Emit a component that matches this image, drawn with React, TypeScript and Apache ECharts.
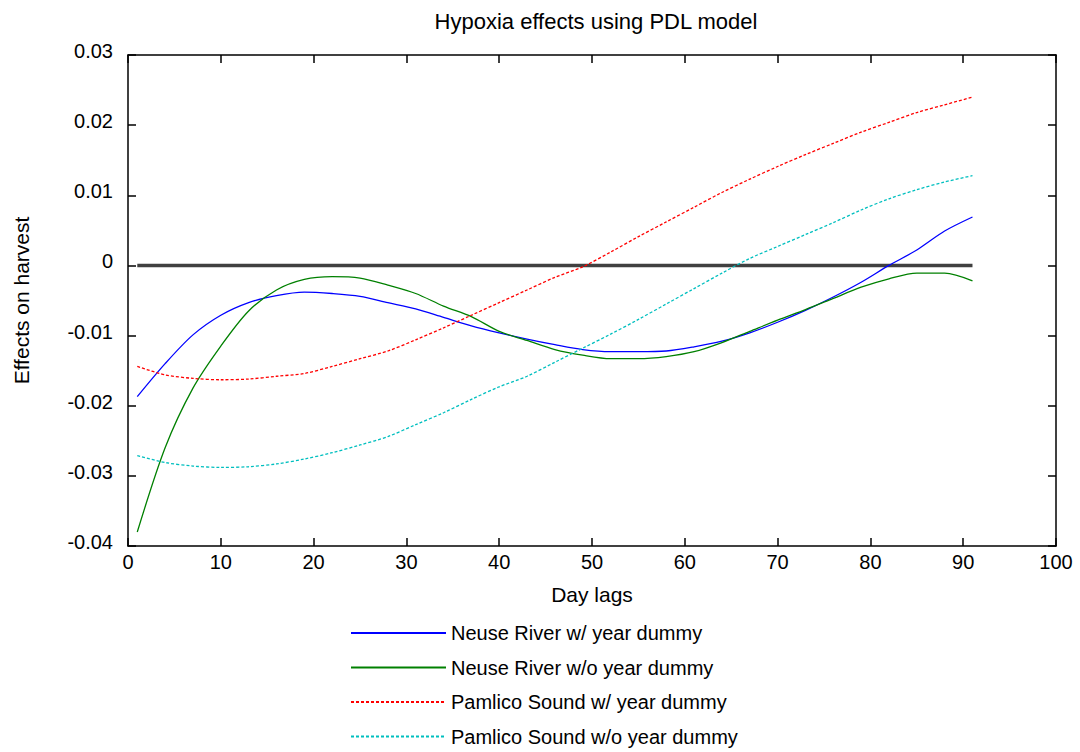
import React, { useEffect, useRef } from "react";
import * as echarts from "echarts";

const days = [1, 4, 7, 10, 13, 16, 19, 22, 25, 28, 31, 34, 37, 40, 43, 46, 49, 52, 55, 58, 61, 64, 67, 70, 73, 76, 79, 82, 85, 88, 91];

const neuseWith = [-0.0187, -0.0140, -0.0099, -0.0071, -0.0053, -0.0043, -0.0038, -0.0040, -0.0044, -0.0053, -0.0062, -0.0074, -0.0086, -0.0096, -0.0105, -0.0113, -0.0120, -0.0123, -0.0123, -0.0122, -0.0116, -0.0108, -0.0096, -0.0081, -0.0064, -0.0045, -0.0024, 0.0000, 0.0022, 0.0049, 0.0069];

const neuseWithout = [-0.0380, -0.0260, -0.0175, -0.0115, -0.0065, -0.0035, -0.0020, -0.0016, -0.0018, -0.0028, -0.0040, -0.0058, -0.0073, -0.0094, -0.0107, -0.0120, -0.0128, -0.0133, -0.0133, -0.0130, -0.0123, -0.0110, -0.0094, -0.0078, -0.0063, -0.0047, -0.0031, -0.0019, -0.0011, -0.0011, -0.0022];

const pamlicoWith = [-0.0144, -0.0156, -0.0161, -0.0163, -0.0162, -0.0158, -0.0154, -0.0144, -0.0133, -0.0122, -0.0106, -0.0089, -0.0071, -0.0053, -0.0035, -0.0017, -0.0002, 0.0019, 0.0041, 0.0062, 0.0083, 0.0104, 0.0123, 0.0141, 0.0158, 0.0174, 0.0190, 0.0204, 0.0218, 0.0229, 0.0240];

const pamlicoWithout = [-0.0271, -0.0281, -0.0286, -0.0288, -0.0287, -0.0283, -0.0276, -0.0267, -0.0256, -0.0244, -0.0227, -0.0210, -0.0191, -0.0173, -0.0158, -0.0138, -0.0118, -0.0098, -0.0077, -0.0055, -0.0033, -0.0011, 0.0010, 0.0027, 0.0044, 0.0061, 0.0079, 0.0095, 0.0108, 0.0119, 0.0128];

const zeroLine = [[1, 0], [91, 0]];

const seriesNames = [
  "Neuse River w/ year dummy",
  "Neuse River w/o year dummy",
  "Pamlico Sound w/ year dummy",
  "Pamlico Sound w/o year dummy",
];

const FONT = "Liberation Sans";

export default function App() {
  const ref = useRef<HTMLDivElement>(null);
  useEffect(() => {
    if (!ref.current) return;
    const chart = echarts.init(ref.current, null, { renderer: "svg" });
    const pair = (vals: number[]) => days.map((d, i) => [d, vals[i]]);
    const mk = (name: string, vals: number[], color: string, dotted: boolean) => ({
      name,
      type: "line",
      data: pair(vals),
      showSymbol: false,
      symbol: "none",
      smooth: 0.3,
      lineStyle: { color, width: 1.3, type: dotted ? [3, 2] : "solid" },
      itemStyle: { color },
      z: 3,
    });
    const axisText = { color: "#000", fontSize: 20, fontFamily: FONT };
    const tick = { show: true, inside: true, length: 8, lineStyle: { color: "#000", width: 1.5 } };
    const line = { show: true, onZero: false, lineStyle: { color: "#000", width: 1.5 } };
    chart.setOption({
      animation: false,
      backgroundColor: "#fff",
      title: {
        text: "Hypoxia effects using PDL model",
        left: 591,
        textAlign: "center",
        top: 5,
        textStyle: { color: "#000", fontSize: 22, fontWeight: "normal", fontFamily: FONT },
      },
      grid: { left: 128, right: 24, top: 55, bottom: 206, containLabel: false },
      legend: {
        data: seriesNames,
        orient: "vertical",
        left: 345,
        top: 618,
        height: 200,
        itemWidth: 95,
        itemHeight: 14,
        itemGap: 14.5,
        itemTextGap: 4,
        itemStyle: { opacity: 0 },
        textStyle: { color: "#000", fontSize: 20, lineHeight: 20, fontFamily: FONT },
      },
      xAxis: [
        {
          type: "value",
          min: 0,
          max: 100,
          interval: 10,
          name: "Day lags",
          nameLocation: "middle",
          nameGap: 38,
          nameTextStyle: { color: "#000", fontSize: 21, fontFamily: FONT },
          axisLine: line,
          axisTick: tick,
          axisLabel: { ...axisText, margin: 6 },
          splitLine: { show: false },
        },
        {
          type: "value",
          position: "top",
          min: 0,
          max: 100,
          interval: 10,
          axisLine: line,
          axisTick: tick,
          axisLabel: { show: false },
          splitLine: { show: false },
        },
      ],
      yAxis: [
        {
          type: "value",
          min: -0.04,
          max: 0.03,
          interval: 0.01,
          name: "Effects on harvest",
          nameLocation: "middle",
          nameGap: 96,
          nameRotate: 90,
          nameTextStyle: { color: "#000", fontSize: 21, fontFamily: FONT },
          axisLine: line,
          axisTick: tick,
          axisLabel: {
            ...axisText,
            margin: 15,
            verticalAlign: "bottom",
            lineHeight: 8,
            formatter: (v: number) => {
              const r = Math.round(v * 100) / 100;
              return r === 0 ? "0" : r.toFixed(2);
            },
          },
          splitLine: { show: false },
        },
        {
          type: "value",
          position: "right",
          min: -0.04,
          max: 0.03,
          interval: 0.01,
          axisLine: line,
          axisTick: tick,
          axisLabel: { show: false },
          splitLine: { show: false },
        },
      ],
      series: [
        {
          name: "zero",
          type: "line",
          data: zeroLine,
          showSymbol: false,
          symbol: "none",
          lineStyle: { color: "#404040", width: 3.5 },
          z: 2,
        },
        mk(seriesNames[0], neuseWith, "#0000ff", false),
        mk(seriesNames[1], neuseWithout, "#008000", false),
        mk(seriesNames[2], pamlicoWith, "#ff0000", true),
        mk(seriesNames[3], pamlicoWithout, "#00bfbf", true),
      ],
    });
    return () => chart.dispose();
  }, []);
  return <div ref={ref} style={{ width: 1080, height: 752, position: "absolute", left: 0, top: 0 }} />;
}
